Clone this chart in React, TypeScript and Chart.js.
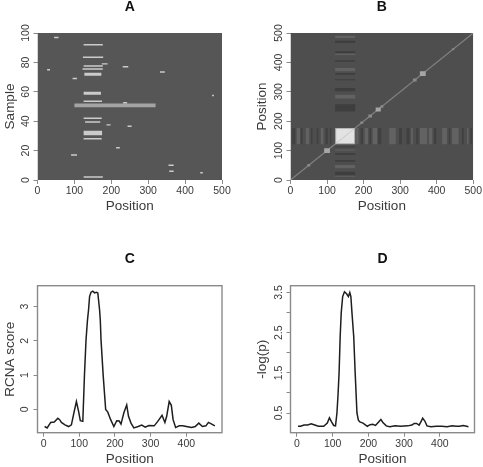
import React, { useEffect, useRef } from "react";
import { Chart, registerables } from "chart.js";

Chart.register(...registerables);

// ---------- data ----------
const positionTicks = [0, 100, 200, 300, 400, 500];
const lineXTicks = [0, 100, 200, 300, 400];
const sampleTicks = [0, 20, 40, 60, 80, 100];
const rcnaTicks = [0, 1, 2, 3];
const logpTicks = [0.5, 1, 1.5, 2, 2.5, 3, 3.5];
const logpLabelled = [0.5, 1.5, 2.5, 3.5];

// Panel A: bright runs [from, to, sampleLow, sampleHigh]
const sampleRuns = [
  [125, 177, 1.5, 2.5], [125, 174, 27.5, 28.5], [125, 175, 30.5, 33.5], [129, 170, 39, 40],
  [125, 174, 41.5, 42.5], [125, 175, 53, 54], [125, 172, 58, 60], [127, 173, 71, 73],
  [122, 177, 75, 76], [125, 177, 77, 78], [174, 190, 78.5, 79.5], [231, 246, 76.5, 77.5],
  [123, 178, 83, 84], [125, 177, 91.5, 92.5], [45, 57, 96.5, 97.5], [26, 34, 74.5, 75.5],
  [95, 107, 68.5, 69.5], [332, 345, 73, 74], [473, 478, 57, 58], [187, 198, 37, 38],
  [244, 255, 36, 37], [213, 223, 21.5, 22.5], [91, 107, 16.5, 17.5], [355, 369, 9.5, 10.5],
  [357, 369, 5.5, 6.5], [441, 448, 4.5, 5.5], [232, 243, 52, 53],
];
const wideRun = [100, 320, 49.5, 52];

// Panel B: correlation bands and diagonal spots
const columnBandsDark = [[5, 13], [28, 33], [56, 60], [72, 76], [96, 102], [108, 112], [192, 198], [216, 221], [240, 248], [297, 305], [317, 326], [344, 350], [392, 399], [433, 437], [469, 474], [492, 496]];
const columnBandsLight = [[17, 26], [42, 51], [83, 90], [180, 186], [203, 212], [225, 237], [270, 288], [330, 335], [354, 374], [379, 388], [415, 428], [442, 460], [483, 487]];
const rowBandsDark = [[17, 28], [62, 68], [85, 91], [111, 115], [233, 258], [302, 313], [358, 364], [339, 343], [402, 407], [432, 438], [466, 474]];
const rowBandsLight = [[11, 14], [40, 51], [100, 104], [277, 290], [370, 381], [425, 429], [483, 491]];
const spots = [[50, 4, 1], [100, 8, 2], [195, 4, 1], [218, 5, 1], [240, 7, 2], [250, 4, 1], [340, 5, 1], [362, 8, 2], [445, 3, 1]];
const blockRange = [122, 177];

// Panels C and D
const rcnaX = [3, 10, 20, 30, 40, 45, 50, 60, 70, 78, 85, 92, 98, 103, 110, 114.6, 119, 123, 126, 129, 133, 138, 143, 148, 152, 154, 157, 159, 161, 167, 174, 180, 188, 197, 205, 212, 217, 225, 233, 238, 245, 253, 265, 275, 285, 295, 310, 320, 332, 340, 345, 352, 358, 363, 370, 380, 390, 400, 415, 425, 435, 445, 455, 462, 470, 480];
const rcnaY = [-0.5, -0.54, -0.38, -0.37, -0.26, -0.3, -0.38, -0.45, -0.5, -0.45, -0.1, 0.23, -0.05, -0.33, -0.35, 1, 2.03, 2.6, 2.9, 3.3, 3.42, 3.45, 3.4, 3.42, 3.4, 3.2, 2.9, 2.6, 2.03, 1, 0, -0.08, -0.3, -0.5, -0.33, -0.34, -0.43, -0.1, 0.13, -0.2, -0.4, -0.54, -0.5, -0.46, -0.52, -0.47, -0.48, -0.35, -0.17, -0.38, -0.2, 0.23, 0.12, -0.3, -0.53, -0.48, -0.48, -0.5, -0.53, -0.5, -0.4, -0.5, -0.48, -0.38, -0.42, -0.48];
const logpX = [3, 10, 20, 30, 40, 50, 60, 75, 85, 91, 97, 103, 108, 112, 115, 118, 121, 124, 128, 133, 139, 144, 148, 151, 154, 159, 163, 168, 172, 176, 185, 197, 205, 212, 220, 228, 235, 240, 250, 260, 275, 290, 310, 322, 328, 335, 342, 348, 352, 358, 364, 375, 390, 405, 420, 435, 445, 455, 465, 475, 480];
const logpY = [0.17, 0.17, 0.2, 0.2, 0.23, 0.2, 0.17, 0.17, 0.25, 0.38, 0.28, 0.19, 0.18, 0.5, 0.95, 1.5, 2.4, 3, 3.4, 3.52, 3.47, 3.4, 3.5, 3.4, 3, 2.4, 1.5, 0.5, 0.32, 0.28, 0.25, 0.17, 0.21, 0.22, 0.19, 0.27, 0.34, 0.27, 0.18, 0.16, 0.18, 0.17, 0.18, 0.2, 0.24, 0.24, 0.2, 0.3, 0.37, 0.3, 0.18, 0.16, 0.17, 0.17, 0.16, 0.18, 0.17, 0.17, 0.19, 0.17, 0.16];

// ---------- styling and helpers ----------
const FONT = "'Liberation Sans', Arial, sans-serif";
const TEXT = "#3a3a3a";
const AXIS = "#8a8a8a";

const rect = (x0: number, x1: number, y0: number, y1: number, color: string) => ({
  type: "line" as const,
  data: [{ x: x0, y: y0 }, { x: x1, y: y0 }, { x: x1, y: y1 }, { x: x0, y: y1 }, { x: x0, y: y0 }],
  fill: "shape",
  backgroundColor: color,
  borderWidth: 0,
  pointRadius: 0,
  tension: 0,
});
const polyline = (xs: number[], ys: number[], color: string, width: number) => ({
  type: "line" as const,
  data: xs.map((x, i) => ({ x, y: ys[i] })),
  borderColor: color,
  borderWidth: width,
  pointRadius: 0,
  tension: 0,
  fill: false,
});

const panelA = () => [
  rect(0, 500, 0, 100, "#565656"),
  rect(wideRun[0], wideRun[1], wideRun[2], wideRun[3], "#a4a4a4"),
  ...sampleRuns.map((r) => rect(r[0], r[1], r[2], r[3], "#cbcbcb")),
];

const panelB = () => {
  const [lo, hi] = blockRange;
  return [
    rect(0, 500, 0, 500, "#4e4e4e"),
    ...columnBandsDark.map((b) => rect(b[0], b[1], lo, hi, "#404040")),
    ...columnBandsLight.map((b) => rect(b[0], b[1], lo, hi, "#626262")),
    ...rowBandsDark.map((b) => rect(lo, hi, b[0], b[1], "#3e3e3e")),
    ...rowBandsLight.map((b) => rect(lo, hi, b[0], b[1], "#626262")),
    polyline([0, 500], [0, 500], "#808080", 1.2),
    ...spots.map((s) => rect(s[0] - s[1], s[0] + s[1], s[0] - s[1], s[0] + s[1], s[2] > 1 ? "#a6a6a6" : "#8a8a8a")),
    rect(lo, hi, lo, hi, "#a9a9a9"),
    rect(lo + 3, hi - 3, lo + 3, hi - 3, "#e2e2e2"),
    polyline([lo + 3, hi - 3], [lo + 3, hi - 3], "#cfcfcf", 1.2),
  ];
};

const boxPlugin = {
  id: "rbox",
  afterDatasetsDraw(chart: any) {
    const { ctx, chartArea: a } = chart;
    ctx.save();
    ctx.strokeStyle = AXIS;
    ctx.lineWidth = 1.4;
    ctx.strokeRect(a.left, a.top, a.right - a.left, a.bottom - a.top);
    ctx.restore();
  },
};

type Panel = {
  letter: string;
  left: number; top: number; width: number; height: number;
  plot: [number, number, number, number];
  xRange: [number, number]; yRange: [number, number];
  xTicks: number[]; yTicks: number[];
  yLabels?: number[];
  yTitle: string; datasets: any[]; box: boolean; titleTop: number;
  xTitleY: number; yTitlePad: number; yTickPad: number;
};

const panels: Panel[] = [
  { letter: "A", left: 0, top: 0, width: 242, height: 225, plot: [37.5, 33, 222, 180], xRange: [0, 500], yRange: [0, 100], xTicks: positionTicks, yTicks: sampleTicks, yTitle: "Sample", datasets: panelA(), box: false, titleTop: 0, xTitleY: 205, yTitlePad: 2, yTickPad: -1 },
  { letter: "B", left: 242, top: 0, width: 241, height: 225, plot: [48.5, 33, 232.5, 180], xRange: [0, 500], yRange: [0, 500], xTicks: positionTicks, yTicks: positionTicks, yTitle: "Position", datasets: panelB(), box: false, titleTop: 0, xTitleY: 205, yTitlePad: 12, yTickPad: -1 },
  { letter: "C", left: 0, top: 240, width: 242, height: 227, plot: [37.5, 45.7, 222, 192.7], xRange: [-17, 500], yRange: [-0.68, 3.61], xTicks: lineXTicks, yTicks: rcnaTicks, yTitle: "RCNA score", datasets: [polyline(rcnaX, rcnaY, "#1e1e1e", 1.5)], box: true, titleTop: 12, xTitleY: 218, yTitlePad: 2, yTickPad: 5 },
  { letter: "D", left: 242, top: 240, width: 241, height: 227, plot: [48.5, 45.7, 232.5, 192.7], xRange: [-18, 497], yRange: [0.01, 3.67], xTicks: lineXTicks, yTicks: logpTicks, yLabels: logpLabelled, yTitle: "-log(p)", datasets: [polyline(logpX, logpY, "#1e1e1e", 1.5)], box: true, titleTop: 12, xTitleY: 218, yTitlePad: 12, yTickPad: 0.5 },
];

function makeChart(canvas: HTMLCanvasElement, p: Panel) {
  const [pl, pt, pr, pb] = p.plot;
  const TITLE_H = 14;
  const tick = (values: number[]) => (scale: any) => {
    scale.ticks = values.map((value) => ({ value }));
  };
  return new Chart(canvas, {
    type: "line",
    // first dataset is painted last by Chart.js, so the list is reversed
    data: { datasets: [...p.datasets].reverse() },
    plugins: p.box ? [boxPlugin] : [],
    options: {
      responsive: false,
      animation: false,
      devicePixelRatio: 1,
      layout: { padding: { left: 0, right: p.width - pr, top: 0, bottom: 0 } },
      plugins: {
        legend: { display: false },
        tooltip: { enabled: false },
        title: {
          display: true,
          text: p.letter,
          fullSize: false,
          color: "#111",
          font: { family: FONT, size: 14, weight: "bold", lineHeight: 1 },
          padding: { top: p.titleTop, bottom: pt - p.titleTop - TITLE_H },
        },
      },
      scales: {
        x: {
          type: "linear",
          min: p.xRange[0],
          max: p.xRange[1],
          afterBuildTicks: tick(p.xTicks),
          afterFit: (s: any) => { s.height = p.height - pb; },
          border: { display: false },
          grid: { drawOnChartArea: false, color: AXIS, tickLength: 4, lineWidth: 1 },
          ticks: { color: TEXT, font: { family: FONT, size: 10.5 }, padding: 1, maxRotation: 0, minRotation: 0, autoSkip: false },
          title: { display: true, text: "Position", color: TEXT, font: { family: FONT, size: 13.5 }, padding: { top: 0, bottom: p.height - p.xTitleY - 8.1 - 1 } },
        },
        y: {
          type: "linear",
          min: p.yRange[0],
          max: p.yRange[1],
          afterBuildTicks: tick(p.yTicks),
          afterFit: (s: any) => { s.width = pl; },
          border: { display: false },
          grid: { drawOnChartArea: false, color: AXIS, tickLength: 4, lineWidth: 1 },
          ticks: {
            color: TEXT,
            font: { family: FONT, size: 10.5 },
            padding: p.yTickPad,
            minRotation: 90,
            maxRotation: 90,
            crossAlign: "center",
            autoSkip: false,
            callback: (v: any) => (p.yLabels && !p.yLabels.includes(v) ? "" : String(v)),
          },
          title: { display: true, text: p.yTitle, color: TEXT, font: { family: FONT, size: 13.5 }, padding: { top: p.yTitlePad, bottom: 0 } },
        },
      },
    } as any,
  });
}

export default function App() {
  const refs = useRef<(HTMLCanvasElement | null)[]>([]);
  useEffect(() => {
    const charts = panels.map((p, i) => makeChart(refs.current[i]!, p));
    return () => charts.forEach((c) => c.destroy());
  }, []);
  return (
    <div style={{ position: "absolute", left: 0, top: 0, width: 483, height: 467, background: "#fff", overflow: "hidden" }}>
      {panels.map((p, i) => (
        <canvas
          key={p.letter}
          ref={(el) => { refs.current[i] = el; }}
          width={p.width}
          height={p.height}
          style={{ position: "absolute", left: p.left, top: p.top, width: p.width, height: p.height, filter: "blur(0.45px)" }}
        />
      ))}
    </div>
  );
}
